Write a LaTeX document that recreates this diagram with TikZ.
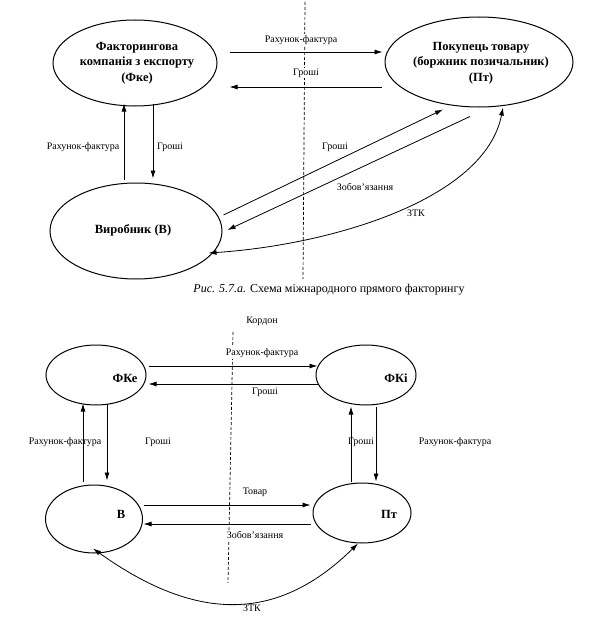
\documentclass[tikz,border=0pt]{standalone}
\usepackage{fontspec}
\setmainfont{Liberation Serif}
\usetikzlibrary{shapes.geometric,arrows.meta,calc}
\begin{document}
\begin{tikzpicture}[x=1pt,y=-1pt,
  oval/.style={ellipse,draw,line width=1pt,inner sep=0pt},
  arr/.style={-{Latex[length=8pt,width=5pt]},line width=0.8pt},
  darr/.style={{Latex[length=8pt,width=5pt]}-{Latex[length=8pt,width=5pt]},line width=0.8pt},
  lbl/.style={font=\fontsize{10}{12}\selectfont,inner sep=1pt},
  lblw/.style={lbl,fill=white},
  big/.style={font=\fontsize{12.5}{15.5}\selectfont\bfseries,align=center,inner sep=0pt},
  border/.style={line width=0.7pt,dash pattern=on 3pt off 2pt}
]
\useasboundingbox[fill=white] (0,0) rectangle (613,618);

% ---------- top diagram ----------
\node[oval,minimum width=164pt,minimum height=86pt] (fke) at (135,63) {};
\node[oval,minimum width=188pt,minimum height=90pt] (ptt) at (479,62) {};
\node[oval,minimum width=172pt,minimum height=96pt] (vyr) at (136,231) {};

\node[big] (fketxt) at (137,63) {Факторингова\\компанія з експорту\\(Фке)};
\node[big] (ptttxt) at (481,63) {Покупець товару\\(боржник позичальник)\\(Пт)};
\node[big] (vyrtxt) at (133,230) {Виробник (В)};

\coordinate (bt1) at (305,2);
\coordinate (bt2) at (303,279);
\draw[border] (bt1) -- (bt2);

\draw[arr] ($(fke.east)+(12,-11)$) -- ($(ptt.west)+(-2,-10)$);
\draw[arr] ($(ptt.west)+(-3,25)$) -- ($(fke.east)+(12,24)$);
\draw[arr] ($(vyr.north)+(-12,-3)$) -- ($(fke.south)+(-11,-3)$);
\draw[arr] ($(fke.south)+(18,-3)$) -- ($(vyr.north)+(17,-4)$);
\draw[arr] ($(vyr.east)+(1,-16)$) -- ($(ptt.south)+(-36,2)$);
\draw[arr] ($(ptt.south)+(-9,9)$) -- ($(vyr.east)+(5,-1)$);
\draw[darr] ($(ptt.south)+(24,0)$) .. controls (485,200) and (330,245) .. ($(vyr.east)+(-14,22)$);

\node[lblw] (l1) at (301,40) {Рахунок-фактура};
\node[lblw] (l2) at (306,73) {Гроші};
\node[lbl] (l3) at (83,147) {Рахунок-фактура};
\node[lbl] (l4) at (170,147) {Гроші};
\node[lbl] (l5) at (335,147) {Гроші};
\node[lbl] (l6) at (365,187) {Зобов'язання};
\node[lbl] (l7) at (416,213) {ЗТК};

\node[font=\fontsize{12}{14}\selectfont] (cap) at (329,290) {\textit{Рис. 5.7.а.} Схема міжнародного прямого факторингу};

% ---------- bottom diagram ----------
\node[oval,minimum width=100pt,minimum height=60pt] (fkeb) at (96,375) {};
\node[oval,minimum width=100pt,minimum height=60pt] (fki) at (366,375) {};
\node[oval,minimum width=97pt,minimum height=68pt] (vb) at (94,519) {};
\node[oval,minimum width=98pt,minimum height=60pt] (ptb) at (362,513) {};

\node[big] (fkebtxt) at (125,378) {ФКе};
\node[big] (fkitxt) at (396,378) {ФКі};
\node[big] (vbtxt) at (121,514) {В};
\node[big] (ptbtxt) at (389,514) {Пт};

\coordinate (bb1) at (233,332);
\coordinate (bb2) at (228,583);
\draw[border] (bb1) -- (bb2);

\draw[arr] ($(fkeb.east)+(2,-9)$) -- ($(fki.west)+(2,-9)$);
\draw[arr] ($(fki.west)+(2,9)$) -- ($(fkeb.east)+(2,9)$);
\draw[arr] ($(vb.north)+(-11,-3)$) -- ($(fkeb.south)+(-13,-2)$);
\draw[arr] ($(fkeb.south)+(11,-2)$) -- ($(vb.north)+(13,-4)$);
\draw[arr] ($(ptb.north)+(-11,-1)$) -- ($(fki.south)+(-15,1)$);
\draw[arr] ($(fki.south)+(10,1)$) -- ($(ptb.north)+(14,-1)$);
\draw[arr] ($(vb.east)+(0.5,-14)$) -- ($(ptb.west)+(-2,-8)$);
\draw[arr] ($(ptb.west)+(-2,11)$) -- ($(vb.east)+(0.5,5)$);
\draw[darr] ($(vb.south)+(-1,-5)$) .. controls (200,625) and (280,620) .. ($(ptb.south)+(-4,0)$);

\node[lbl] (m0) at (262,321) {Кордон};
\node[lblw] (m1) at (262,353) {Рахунок-фактура};
\node[lblw] (m2) at (265,392) {Гроші};
\node[lbl] (m3) at (65,442) {Рахунок-фактура};
\node[lbl] (m4) at (158,442) {Гроші};
\node[lbl] (m5) at (361,442) {Гроші};
\node[lbl] (m6) at (455,442) {Рахунок-фактура};
\node[lblw] (m7) at (255,492) {Товар};
\node[lblw] (m8) at (255,535) {Зобов'язання};
\node[lbl] (m9) at (252,608) {ЗТК};
\end{tikzpicture}
\end{document}
